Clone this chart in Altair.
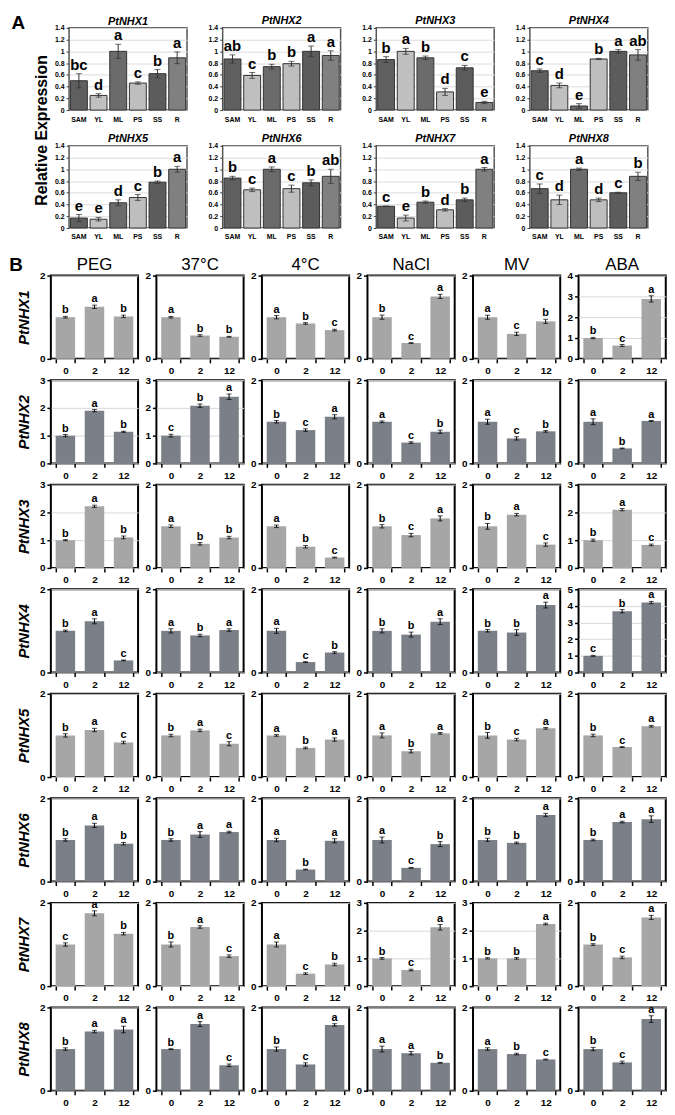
import altair as alt
import pandas as pd

FONT = "Liberation Sans"
NARROW = "'Liberation Sans Narrow', 'Liberation Sans', sans-serif"

# ---------------- Panel A data ----------------
tissues = ["SAM", "YL", "ML", "PS", "SS", "R"]
tissue_colors = ["#5f5f5f", "#c0c0c0", "#6b6b6b", "#bebebe", "#5c5c5c", "#808080"]
genes = ["PtNHX1", "PtNHX2", "PtNHX3", "PtNHX4", "PtNHX5", "PtNHX6", "PtNHX7", "PtNHX8"]
panel_labels = ["A", "B"]

a_values = [
    [0.50, 0.25, 1.00, 0.46, 0.62, 0.89],
    [0.87, 0.59, 0.74, 0.79, 1.00, 0.93],
    [0.86, 1.00, 0.89, 0.31, 0.72, 0.13],
    [0.67, 0.42, 0.07, 0.87, 1.00, 0.94],
    [0.17, 0.15, 0.43, 0.52, 0.78, 1.00],
    [0.85, 0.65, 1.00, 0.67, 0.77, 0.88],
    [0.37, 0.17, 0.44, 0.31, 0.48, 1.00],
    [0.67, 0.48, 1.00, 0.48, 0.60, 0.88],
]
a_errors = [
    [0.12, 0.03, 0.12, 0.02, 0.07, 0.10],
    [0.07, 0.05, 0.04, 0.04, 0.09, 0.08],
    [0.05, 0.05, 0.03, 0.06, 0.04, 0.02],
    [0.03, 0.04, 0.04, 0.01, 0.03, 0.09],
    [0.06, 0.03, 0.05, 0.05, 0.02, 0.05],
    [0.03, 0.03, 0.04, 0.06, 0.05, 0.12],
    [0.005, 0.05, 0.02, 0.02, 0.03, 0.03],
    [0.08, 0.08, 0.02, 0.03, 0.01, 0.07],
]
a_letters = [
    ["bc", "d", "a", "c", "b", "a"],
    ["ab", "c", "b", "b", "a", "a"],
    ["b", "a", "b", "d", "c", "e"],
    ["c", "d", "e", "b", "a", "ab"],
    ["e", "e", "d", "c", "b", "a"],
    ["b", "c", "a", "c", "b", "ab"],
    ["c", "e", "b", "d", "b", "a"],
    ["c", "d", "a", "d", "c", "b"],
]
a_ticks = [0, 0.2, 0.4, 0.6, 0.8, 1.0, 1.2, 1.4]

# ---------------- Panel B data ----------------
conditions = ["PEG", "37°C", "4°C", "NaCl", "MV", "ABA"]
times = ["0", "2", "12"]
row_colors = ["#a6a6a6", "#7a7f88"]

b_values = [
    [[1.00, 1.25, 1.02], [1.00, 0.56, 0.53], [1.00, 0.85, 0.69], [1.00, 0.38, 1.50], [1.00, 0.60, 0.90], [1.00, 0.64, 2.88]],
    [[1.00, 1.90, 1.14], [1.00, 2.08, 2.40], [1.00, 0.80, 1.12], [1.00, 0.50, 0.76], [1.00, 0.60, 0.77], [1.00, 0.36, 1.02]],
    [[1.00, 2.22, 1.10], [1.00, 0.58, 0.73], [1.00, 0.51, 0.25], [1.00, 0.79, 1.19], [1.00, 1.28, 0.56], [1.00, 2.10, 0.83]],
    [[1.00, 1.23, 0.29], [1.00, 0.89, 1.02], [1.00, 0.25, 0.48], [1.00, 0.91, 1.22], [1.00, 0.96, 1.62], [1.00, 3.68, 4.20]],
    [[1.00, 1.13, 0.83], [1.00, 1.12, 0.80], [1.00, 0.70, 0.90], [1.00, 0.62, 1.05], [1.00, 0.90, 1.17], [1.00, 0.72, 1.22]],
    [[1.00, 1.35, 0.91], [1.00, 1.13, 1.19], [1.00, 0.29, 0.98], [1.00, 0.33, 0.90], [1.00, 0.93, 1.60], [1.00, 1.43, 1.50]],
    [[1.00, 1.75, 1.26], [1.00, 1.42, 0.72], [1.00, 0.30, 0.52], [1.00, 0.58, 2.12], [1.00, 1.00, 2.24], [1.00, 0.69, 1.65]],
    [[1.00, 1.42, 1.47], [1.00, 1.60, 0.61], [1.00, 0.63, 1.58], [1.00, 0.90, 0.67], [1.00, 0.88, 0.75], [1.00, 0.68, 1.72]],
]
b_errors = [
    [[0.02, 0.04, 0.03], [0.02, 0.02, 0.01], [0.04, 0.02, 0.02], [0.05, 0.01, 0.05], [0.05, 0.04, 0.05], [0.03, 0.05, 0.15]],
    [[0.04, 0.04, 0.02], [0.05, 0.06, 0.10], [0.03, 0.03, 0.05], [0.02, 0.02, 0.04], [0.06, 0.04, 0.02], [0.07, 0.01, 0.01]],
    [[0.02, 0.04, 0.05], [0.03, 0.03, 0.03], [0.03, 0.03, 0.01], [0.04, 0.04, 0.06], [0.07, 0.03, 0.04], [0.04, 0.04, 0.03]],
    [[0.02, 0.06, 0.01], [0.05, 0.03, 0.03], [0.06, 0.01, 0.02], [0.05, 0.06, 0.07], [0.03, 0.07, 0.07], [0.03, 0.10, 0.07]],
    [[0.04, 0.04, 0.03], [0.03, 0.03, 0.05], [0.02, 0.02, 0.04], [0.06, 0.04, 0.02], [0.07, 0.03, 0.02], [0.03, 0.01, 0.02]],
    [[0.03, 0.05, 0.03], [0.03, 0.07, 0.02], [0.04, 0.01, 0.05], [0.07, 0.01, 0.06], [0.04, 0.02, 0.04], [0.02, 0.02, 0.08]],
    [[0.04, 0.06, 0.03], [0.06, 0.03, 0.03], [0.06, 0.02, 0.03], [0.03, 0.03, 0.10], [0.02, 0.03, 0.03], [0.02, 0.03, 0.05]],
    [[0.03, 0.03, 0.08], [0.01, 0.06, 0.03], [0.05, 0.04, 0.03], [0.07, 0.04, 0.01], [0.03, 0.02, 0.01], [0.04, 0.03, 0.08]],
]
b_letters = [
    [["b", "a", "b"], ["a", "b", "b"], ["a", "b", "c"], ["b", "c", "a"], ["a", "c", "b"], ["b", "c", "a"]],
    [["b", "a", "b"], ["c", "b", "a"], ["b", "c", "a"], ["a", "c", "b"], ["a", "c", "b"], ["a", "b", "a"]],
    [["b", "a", "b"], ["a", "b", "b"], ["a", "b", "c"], ["b", "c", "a"], ["b", "a", "c"], ["b", "a", "c"]],
    [["b", "a", "c"], ["a", "b", "a"], ["a", "c", "b"], ["b", "b", "a"], ["b", "b", "a"], ["c", "b", "a"]],
    [["b", "a", "c"], ["b", "a", "c"], ["a", "b", "a"], ["a", "b", "a"], ["b", "c", "a"], ["b", "c", "a"]],
    [["b", "a", "b"], ["b", "a", "a"], ["a", "b", "a"], ["a", "c", "b"], ["b", "b", "a"], ["b", "a", "a"]],
    [["c", "a", "b"], ["b", "a", "c"], ["a", "c", "b"], ["b", "c", "a"], ["b", "b", "a"], ["b", "c", "a"]],
    [["b", "a", "a"], ["b", "a", "c"], ["b", "c", "a"], ["a", "a", "b"], ["a", "b", "c"], ["b", "c", "a"]],
]
b_ymax = [
    [2, 2, 2, 2, 2, 4],
    [3, 3, 2, 2, 2, 2],
    [3, 2, 2, 2, 2, 3],
    [2, 2, 2, 2, 2, 5],
    [2, 2, 2, 2, 2, 2],
    [2, 2, 2, 2, 2, 2],
    [2, 2, 2, 3, 3, 2],
    [2, 2, 2, 2, 2, 2],
]


def panel_letter(label, px, py):
    d = pd.DataFrame({"t": [label]})
    return alt.Chart(d).mark_text(align="left", baseline="bottom", fontSize=19, fontWeight="bold",
                                  font=FONT, color="black").encode(
        x=alt.value(px), y=alt.value(py), text="t:N")


def a_panel(g):
    df = pd.DataFrame({"tissue": tissues, "v": a_values[g], "e": a_errors[g], "lab": a_letters[g]})
    df["lo"] = df["v"] - df["e"]
    df["hi"] = df["v"] + df["e"]
    xaxis = alt.Axis(title="", labelAngle=0, labelFontSize=7, labelFontWeight="bold",
                     labelColor="black", ticks=False, domain=False, labelPadding=5)
    x = alt.X("tissue:N", sort=tissues, scale=alt.Scale(paddingInner=0.14, paddingOuter=0.07), axis=xaxis)
    ykw = dict(values=a_ticks, format="~g", labelFontSize=7, labelFontWeight="bold", labelColor="black",
               tickSize=3, tickColor="#404040", domain=False, grid=True, gridColor="#dcdcdc",
               labelPadding=2)
    if g == 0:
        yaxis = alt.Axis(title="Relative Expression", titleFontSize=16, titleFontWeight="bold",
                         titleColor="black", titleX=-20, titleY=103, titleAngle=270,
                         titleBaseline="bottom", titleAlign="center", **ykw)
    else:
        yaxis = alt.Axis(title="", **ykw)
    ysc = alt.Scale(domain=[0, 1.4], nice=False)
    base = alt.Chart(df)
    bars = base.mark_bar(stroke="#333333", strokeWidth=1).encode(
        x=x, y=alt.Y("v:Q", scale=ysc, axis=yaxis),
        color=alt.Color("tissue:N", scale=alt.Scale(domain=tissues, range=tissue_colors), legend=None))
    rule = base.mark_rule(color="#333333", strokeWidth=1).encode(
        x=x, y=alt.Y("lo:Q", scale=ysc, axis=yaxis), y2="hi:Q")
    cap_lo = base.mark_tick(color="#333333", size=6, thickness=1).encode(x=x, y=alt.Y("lo:Q", scale=ysc, axis=yaxis))
    cap_hi = base.mark_tick(color="#333333", size=6, thickness=1).encode(x=x, y=alt.Y("hi:Q", scale=ysc, axis=yaxis))
    txt = base.mark_text(baseline="bottom", dy=-1, fontSize=15, fontWeight="bold", font=FONT, color="black").encode(
        x=x, y=alt.Y("hi:Q", scale=ysc, axis=yaxis), text="lab:N")
    layers = [bars, rule, cap_lo, cap_hi, txt]
    toff = -2.5
    if g == 0:
        layers.append(panel_letter(panel_labels[0], -58, 5))
        toff = -13
    return alt.layer(*layers).properties(
        width=119, height=83,
        title=alt.TitleParams(genes[g], fontSize=11, fontStyle="italic", fontWeight="bold", offset=toff,
                              frame="group", font=FONT, color="black"),
        view=alt.ViewBackground(stroke="#555555", strokeWidth=1.5))


def b_panel(g, c):
    df = pd.DataFrame({"time": times, "v": b_values[g][c], "e": b_errors[g][c], "lab": b_letters[g][c]})
    df["lo"] = df["v"] - df["e"]
    df["hi"] = df["v"] + df["e"]
    ymax = b_ymax[g][c]
    xaxis = alt.Axis(title="", labelAngle=0, labelFontSize=10, labelFontWeight="bold", labelColor="black",
                     tickBand="extent", tickSize=4, tickColor="black", tickWidth=1.5, domain=False,
                     labelPadding=3)
    x = alt.X("time:N", sort=times, scale=alt.Scale(paddingInner=0.33, paddingOuter=0.165), axis=xaxis)
    yaxis = alt.Axis(title=genes[g] if c == 0 else "", values=list(range(ymax + 1)), format="d",
                     labelFontSize=10, labelFontWeight="bold", labelColor="black", tickSize=4,
                     tickColor="black", tickWidth=1.5, domain=False, grid=True, gridColor="#d9d9d9",
                     labelPadding=2, titleFontSize=15, titleFontWeight="bold", titleFontStyle="italic",
                     titlePadding=8, titleColor="black")
    ysc = alt.Scale(domain=[0, ymax], nice=False)
    base = alt.Chart(df)
    bars = base.mark_bar(color=row_colors[g % 2]).encode(x=x, y=alt.Y("v:Q", scale=ysc, axis=yaxis))
    rule = base.mark_rule(color="black", strokeWidth=1).encode(
        x=x, y=alt.Y("lo:Q", scale=ysc, axis=yaxis), y2="hi:Q")
    cap_lo = base.mark_tick(color="black", size=5, thickness=1).encode(x=x, y=alt.Y("lo:Q", scale=ysc, axis=yaxis))
    cap_hi = base.mark_tick(color="black", size=5, thickness=1).encode(x=x, y=alt.Y("hi:Q", scale=ysc, axis=yaxis))
    txt = base.mark_text(baseline="bottom", dy=-1, fontSize=11, fontWeight="bold", font=FONT, color="black").encode(
        x=x, y=alt.Y("hi:Q", scale=ysc, axis=yaxis), text="lab:N")
    layers = [bars, rule, cap_lo, cap_hi, txt]
    toff = -3
    if g == 0 and c == 0:
        layers.append(panel_letter(panel_labels[1], -42, -1))
        toff = -18
    props = dict(width=88, height=84, view=alt.ViewBackground(stroke="black", strokeWidth=2))
    if g == 0:
        props["title"] = alt.TitleParams(conditions[c], fontSize=17, font=NARROW, fontWeight="normal",
                                         offset=toff, frame="group", color="black")
    return alt.layer(*layers).properties(**props)


block_a = alt.concat(*[a_panel(g) for g in range(8)], columns=4, bounds="flush",
                     spacing={"row": 36, "column": 36})

block_b = alt.concat(*[b_panel(g, c) for g in range(8) for c in range(6)], columns=6, bounds="flush",
                     spacing={"row": 21.5, "column": 18.5})

chart = alt.vconcat(block_a, block_b, spacing=14, center=True).properties(
    padding=0, background="white"
).configure_axis(labelFont=FONT, titleFont=FONT).configure_title(font=FONT)

chart.save("out.html", embed_options={"renderer": "svg", "actions": False})
